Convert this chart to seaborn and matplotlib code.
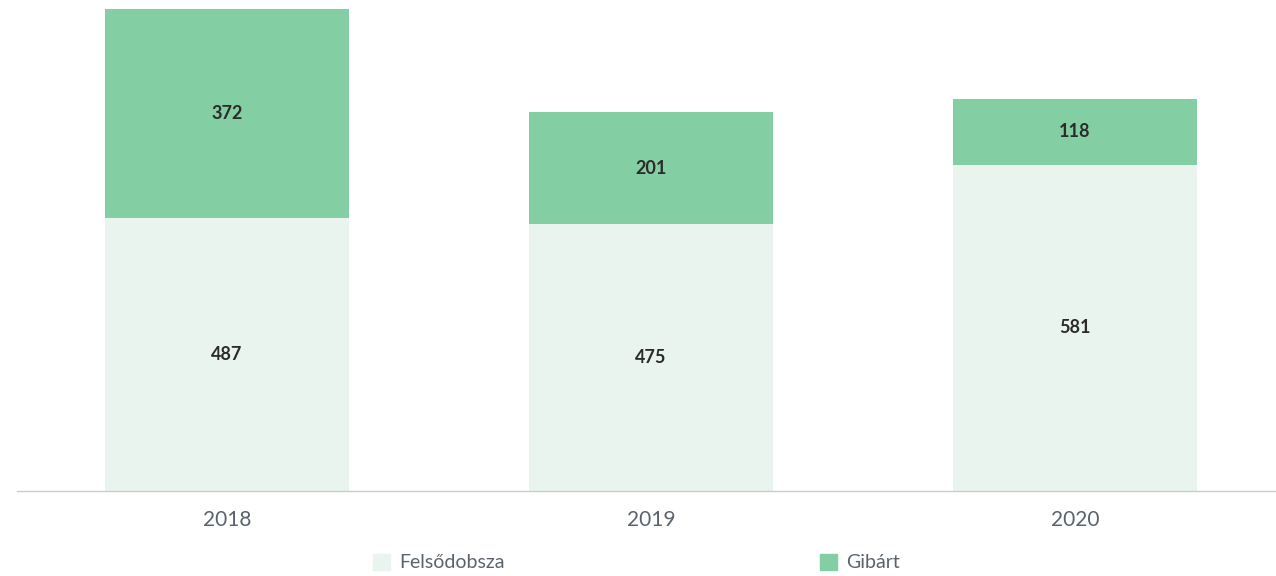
import pandas as pd
import matplotlib.pyplot as plt
import seaborn as sns
from matplotlib.patches import Patch

years = ["2018", "2019", "2020"]
felsodobsza = [487, 475, 581]
gibart = [372, 201, 118]

LIGHT = "#EAF4EE"
GREEN = "#83CEA2"
TEXT = "#5A636B"

sns.set_theme(style="white")
plt.rcParams["font.family"] = ["Lato", "DejaVu Sans"]

df = pd.DataFrame({"year": years, "Felsődobsza": felsodobsza, "Gibárt": gibart})
df["total"] = df["Felsődobsza"] + df["Gibárt"]

fig = plt.figure(figsize=(12.76, 5.76), dpi=100)
ax = fig.add_axes([17 / 1276, 1 - 491 / 576, 1 - 17 / 1276, (491 - 9) / 576])

# stacked: draw totals in green, then the lower segment over it
sns.barplot(data=df, x="year", y="total", color=GREEN, width=0.575,
            saturation=1, linewidth=0, ax=ax)
sns.barplot(data=df, x="year", y="Felsődobsza", color=LIGHT, width=0.575,
            saturation=1, linewidth=0, ax=ax)

for i, (a, b) in enumerate(zip(felsodobsza, gibart)):
    ax.text(i, a / 2, str(a), ha="center", va="center", fontsize=13,
            fontweight="bold", color="#2b2b2b")
    ax.text(i, a + b / 2, str(b), ha="center", va="center", fontsize=13,
            fontweight="bold", color="#2b2b2b")

ax.set_xlim(-0.495, 2.474)
ax.set_ylim(0, max(df["total"]))
ax.set_xlabel("")
ax.set_ylabel("")
ax.set_yticks([])
for s in ["top", "right", "left"]:
    ax.spines[s].set_visible(False)
ax.spines["bottom"].set_color("#cccccc")
ax.spines["bottom"].set_linewidth(1)
ax.tick_params(axis="x", length=0, pad=14, labelsize=15, labelcolor=TEXT)

handles = [Patch(color=LIGHT, label="Felsődobsza"), Patch(color=GREEN, label="Gibárt")]
fig.legend(handles=handles, loc="center", bbox_to_anchor=(0.499, 0.023), ncol=2,
           frameon=False, fontsize=14, labelcolor=TEXT, handlelength=0.85,
           handleheight=0.85, handletextpad=0.5, columnspacing=16.2)

fig.savefig("out.png", dpi=100)
